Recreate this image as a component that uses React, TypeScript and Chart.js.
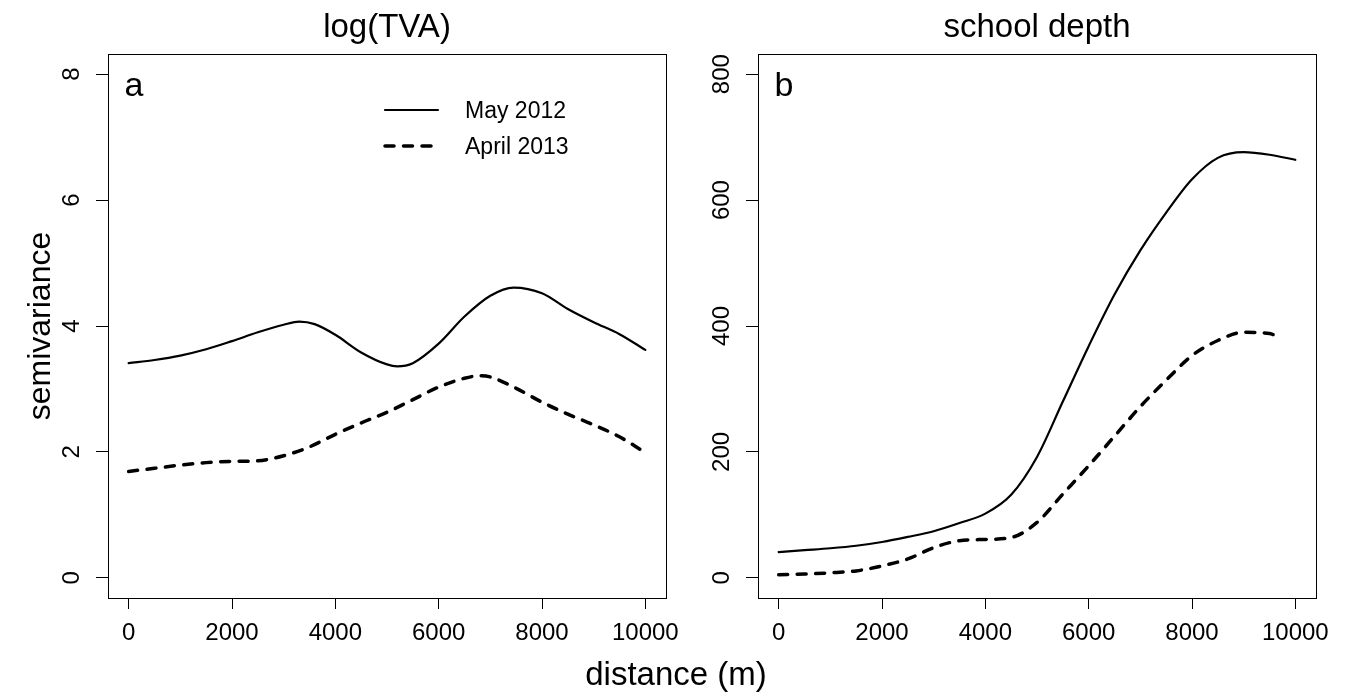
import React, { useEffect, useRef } from 'react';
import { Chart, registerables } from 'chart.js';

Chart.register(...registerables);

// ---------- data ----------
const seriesLabels = ['May 2012', 'April 2013'];
const panelTitles = ['log(TVA)', 'school depth'];
const panelLetters = ['a', 'b'];
const xAxisLabel = 'distance (m)';
const yAxisLabel = 'semivariance';

const xTicks = [0, 2000, 4000, 6000, 8000, 10000];
const tvaTicks = [0, 2, 4, 6, 8];
const depthTicks = [0, 200, 400, 600, 800];

// panel a: log(TVA)
const tvaMayDist = [0, 500, 1000, 1500, 2000, 2500, 3000, 3300, 3600, 4000, 4500, 5000, 5200, 5500, 6000, 6500, 7000, 7450, 8000, 8500, 9000, 9500, 10000];
const tvaMay2012 = [3.41, 3.46, 3.53, 3.63, 3.76, 3.9, 4.02, 4.07, 4.03, 3.86, 3.58, 3.39, 3.36, 3.41, 3.72, 4.15, 4.48, 4.61, 4.52, 4.27, 4.06, 3.87, 3.62];
const tvaAprilDist = [0, 500, 1000, 1500, 2000, 2500, 3000, 3500, 4000, 4500, 5000, 5500, 6000, 6500, 6800, 7000, 7500, 8000, 8500, 9000, 9500, 10000];
const tvaApril2013 = [1.69, 1.74, 1.79, 1.83, 1.85, 1.86, 1.94, 2.08, 2.28, 2.46, 2.63, 2.83, 3.03, 3.17, 3.21, 3.19, 3.01, 2.79, 2.6, 2.43, 2.24, 1.99];

// panel b: school depth
const depthMayDist = [0, 500, 1000, 1500, 2000, 2500, 3000, 3500, 4000, 4500, 5000, 5500, 6000, 6500, 7000, 7500, 8000, 8500, 9000, 9500, 10000];
const depthMay2012 = [41, 44, 47, 51, 57, 65, 74, 87, 102, 132, 192, 280, 368, 450, 520, 580, 633, 667, 676, 672, 664];
const depthAprilDist = [0, 500, 1000, 1500, 2000, 2500, 3000, 3500, 4000, 4500, 5000, 5500, 6000, 6500, 7000, 7500, 8000, 8500, 9000, 9500, 9700];
const depthApril2013 = [5, 6, 8, 11, 19, 30, 48, 59, 61, 64, 88, 133, 178, 225, 272, 314, 353, 377, 390, 388, 382];

// ---------- layout ----------
const W = 1346;
const H = 695;
const FONT = '"Liberation Sans", Arial, Helvetica, sans-serif';
const TICK_SIZE = 24;

const zip = (xs: number[], ys: number[]) => xs.map((x, i) => ({ x, y: ys[i] }));

function widest(labels: string[], size: number) {
  const c = document.createElement('canvas').getContext('2d')!;
  c.font = `normal ${size}px ${FONT}`;
  return Math.max(...labels.map((l) => c.measureText(l).width));
}

const decorPlugin = {
  id: 'panelDecor',
  afterDraw(chart: any, _args: any, opts: any) {
    const { ctx, chartArea: ca } = chart;
    ctx.save();
    ctx.strokeStyle = '#000';
    ctx.lineWidth = 1;
    ctx.setLineDash([]);
    ctx.strokeRect(ca.left + 0.5, ca.top + 0.5, ca.right - ca.left, ca.bottom - ca.top);
    ctx.fillStyle = '#000';
    ctx.textBaseline = 'alphabetic';

    ctx.font = `33px ${FONT}`;
    ctx.textAlign = 'center';
    ctx.fillText(opts.title, (ca.left + ca.right) / 2, 37);

    ctx.font = `34px ${FONT}`;
    ctx.textAlign = 'left';
    ctx.fillText(opts.letter, ca.left + 16.5, ca.top + 42);

    if (opts.legend) {
      chart.data.datasets.forEach((d: any, i: number) => {
        const y = ca.top + 56 + i * 36;
        ctx.beginPath();
        ctx.setLineDash(d.borderDash || []);
        ctx.lineWidth = d.borderWidth;
        ctx.lineCap = d.borderCapStyle || 'butt';
        ctx.strokeStyle = d.borderColor;
        ctx.moveTo(ca.left + 277, y);
        ctx.lineTo(ca.left + 330, y);
        ctx.stroke();
        ctx.setLineDash([]);
        ctx.font = `23px ${FONT}`;
        ctx.textAlign = 'left';
        ctx.fillText(d.label, ca.left + 357, y + 8);
      });
    }

    if (opts.yLabel) {
      ctx.save();
      ctx.translate(50, (ca.top + ca.bottom) / 2);
      ctx.rotate(-Math.PI / 2);
      ctx.font = `32px ${FONT}`;
      ctx.textAlign = 'center';
      ctx.fillText(opts.yLabel, 0, 0);
      ctx.restore();
    }
    if (opts.xLabel) {
      ctx.font = `33px ${FONT}`;
      ctx.textAlign = 'center';
      ctx.fillText(opts.xLabel, chart.width / 2 + 3, 685);
    }
    ctx.restore();
  },
};

type Panel = {
  title: string;
  letter: string;
  legend: boolean;
  yLabel?: string;
  xLabel?: string;
  padLeft: number;
  yWidth: number;
  padRight: number;
  yMin: number;
  yMax: number;
  yTicks: number[];
  series: { x: number[]; y: number[] }[];
};

function buildConfig(p: Panel): any {
  const yLabels = p.yTicks.map((v) => String(v));
  const yPad = 24 - widest(yLabels, TICK_SIZE) / 2;
  const styles = [
    { borderWidth: 2.2, borderDash: [] as number[], borderCapStyle: 'round' },
    { borderWidth: 3.5, borderDash: [9, 9.5], borderCapStyle: 'round' },
  ];
  return {
    type: 'line',
    data: {
      datasets: p.series.map((s, i) => ({
        label: seriesLabels[i],
        data: zip(s.x, s.y),
        borderColor: '#000',
        backgroundColor: '#000',
        borderWidth: styles[i].borderWidth,
        borderDash: styles[i].borderDash,
        borderCapStyle: styles[i].borderCapStyle,
        pointRadius: 0,
        fill: false,
        cubicInterpolationMode: 'monotone',
      })),
    },
    options: {
      responsive: false,
      animation: false,
      events: [],
      layout: { padding: { left: p.padLeft, right: p.padRight, top: 54, bottom: 0 } },
      plugins: {
        legend: { display: false },
        tooltip: { enabled: false },
        title: { display: false },
        panelDecor: {
          title: p.title,
          letter: p.letter,
          legend: p.legend,
          yLabel: p.yLabel,
          xLabel: p.xLabel,
        },
      },
      scales: {
        x: {
          type: 'linear',
          position: 'bottom',
          min: -400,
          max: 10400,
          afterBuildTicks: (s: any) => {
            s.ticks = xTicks.map((v) => ({ value: v }));
          },
          afterFit: (s: any) => {
            s.height = 97;
          },
          grid: { drawOnChartArea: false, drawTicks: true, tickLength: 11, tickColor: '#000', tickWidth: 1, color: '#000' },
          border: { display: false },
          ticks: {
            font: { family: FONT, size: TICK_SIZE },
            color: '#000',
            padding: 10,
            minRotation: 0,
            maxRotation: 0,
            autoSkip: false,
            callback: (v: number) => String(v),
          },
        },
        y: {
          type: 'linear',
          position: 'left',
          min: p.yMin,
          max: p.yMax,
          afterBuildTicks: (s: any) => {
            s.ticks = p.yTicks.map((v) => ({ value: v }));
          },
          afterFit: (s: any) => {
            s.width = p.yWidth;
          },
          grid: { drawOnChartArea: false, drawTicks: true, tickLength: 12, tickColor: '#000', tickWidth: 1, color: '#000' },
          border: { display: false },
          ticks: {
            font: { family: FONT, size: TICK_SIZE },
            color: '#000',
            padding: yPad,
            minRotation: 90,
            maxRotation: 90,
            crossAlign: 'center',
            autoSkip: false,
            callback: (v: number) => String(v),
          },
        },
      },
    },
    plugins: [decorPlugin],
  };
}

const panels: Panel[] = [
  {
    title: panelTitles[0],
    letter: panelLetters[0],
    legend: true,
    yLabel: yAxisLabel,
    xLabel: xAxisLabel,
    padLeft: 0,
    yWidth: 108,
    padRight: W - 666,
    yMin: -0.32,
    yMax: 8.32,
    yTicks: tvaTicks,
    series: [
      { x: tvaMayDist, y: tvaMay2012 },
      { x: tvaAprilDist, y: tvaApril2013 },
    ],
  },
  {
    title: panelTitles[1],
    letter: panelLetters[1],
    legend: false,
    padLeft: 690,
    yWidth: 68,
    padRight: W - 1316,
    yMin: -32,
    yMax: 832,
    yTicks: depthTicks,
    series: [
      { x: depthMayDist, y: depthMay2012 },
      { x: depthAprilDist, y: depthApril2013 },
    ],
  },
];

export default function App() {
  const leftRef = useRef<HTMLCanvasElement>(null);
  const rightRef = useRef<HTMLCanvasElement>(null);

  useEffect(() => {
    const charts = [
      new Chart(leftRef.current!, buildConfig(panels[0])),
      new Chart(rightRef.current!, buildConfig(panels[1])),
    ];
    return () => charts.forEach((c) => c.destroy());
  }, []);

  return (
    <div style={{ position: 'absolute', left: 0, top: 0, width: W, height: H, background: '#fff', overflow: 'hidden' }}>
      <canvas ref={leftRef} width={W} height={H} style={{ position: 'absolute', left: 0, top: 0 }} />
      <canvas ref={rightRef} width={W} height={H} style={{ position: 'absolute', left: 0, top: 0 }} />
    </div>
  );
}
